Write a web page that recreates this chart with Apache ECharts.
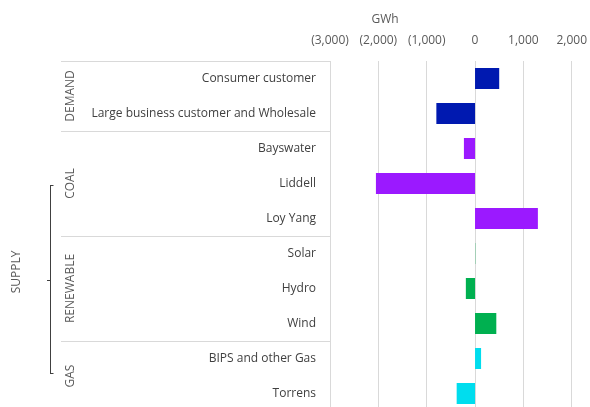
<!DOCTYPE html>
<html>
<head>
<meta charset="utf-8">
<script src="https://cdn.jsdelivr.net/npm/echarts@6/dist/echarts.min.js"></script>
<style>
html,body{margin:0;padding:0;background:#fff;overflow:hidden;width:590px;height:407px;}
#chart{width:590px;height:420px;}
</style>
</head>
<body>
<div id="chart"></div>
<script>
const categories = ['Consumer customer','Large business customer and Wholesale','Bayswater','Liddell','Loy Yang','Solar','Hydro','Wind','BIPS and other Gas','Torrens'];
const values = [500, -800, -230, -2050, 1300, 5, -190, 440, 125, -380];
const groupOf = ['DEMAND','DEMAND','COAL','COAL','COAL','RENEWABLE','RENEWABLE','RENEWABLE','GAS','GAS'];
const groupNames = ['DEMAND','COAL','RENEWABLE','GAS'];
const groupColors = {DEMAND:'#0019B0', COAL:'#9B19FF', RENEWABLE:'#00B050', GAS:'#00DDEE'};
const xTicks = {min:-3000, max:2000, interval:1000};

const FONT = '"Open Sans", sans-serif';
const TXT = '#595959';

function fmt(v){
  const s = Math.abs(v).toLocaleString('en-US');
  return v < 0 ? '(' + s + ')' : s;
}

const chart = echarts.init(document.getElementById('chart'), null, {renderer:'canvas'});
const boundaries = [];
for (let i = 0; i < categories.length; i++) {
  if (i === 0 || groupOf[i] !== groupOf[i-1]) boundaries.push(i);
}

chart.setOption({
  animation:false,
  textStyle:{fontFamily:FONT},
  grid:{left:330, right:17.7, top:61, height:350, containLabel:false},
  xAxis:{
    type:'value', position:'top',
    min:xTicks.min, max:xTicks.max, interval:xTicks.interval,
    axisLine:{show:false}, axisTick:{show:false},
    axisLabel:{color:TXT, fontSize:12, fontFamily:FONT, margin:14, formatter:fmt},
    splitLine:{show:true, lineStyle:{color:'#d9d9d9', width:1}}
  },
  yAxis:{
    type:'category', inverse:true, data:categories,
    axisLine:{show:false}, axisTick:{show:false},
    axisLabel:{color:'#404040', fontSize:12, fontFamily:FONT, margin:14}
  },
  series:[{
    type:'bar', barWidth:21,
    data: values.map((v,i)=>({value:v, itemStyle:{color:groupColors[groupOf[i]]}}))
  }]
});

const g = [];
g.push({type:'text', x:385, y:20, style:{text:'GWh', fill:TXT, font:'12px '+FONT, textAlign:'center', textVerticalAlign:'middle'}});
const c0 = chart.convertToPixel({yAxisIndex:0}, categories[0]);
const c1 = chart.convertToPixel({yAxisIndex:0}, categories[1]);
const band = c1 - c0;
boundaries.forEach(i=>{
  const y = Math.round(chart.convertToPixel({yAxisIndex:0}, categories[i]) - band/2) + 0.5;
  g.push({type:'line', shape:{x1:61, y1:y, x2:330, y2:y}, style:{stroke:'#d9d9d9', lineWidth:1}});
});
groupNames.forEach(name=>{
  const idx = [];
  groupOf.forEach((gname,i)=>{ if(gname===name) idx.push(i); });
  const y0 = chart.convertToPixel({yAxisIndex:0}, categories[idx[0]]);
  const y1 = chart.convertToPixel({yAxisIndex:0}, categories[idx[idx.length-1]]);
  g.push({type:'text', x:71, y:(y0+y1)/2, rotation:Math.PI/2,
    style:{text:name, fill:TXT, font:'12px '+FONT, textAlign:'center', textVerticalAlign:'middle'}});
});
const ls = {stroke:'#404040', lineWidth:1};
g.push({type:'line', shape:{x1:50.5, y1:185, x2:50.5, y2:374}, style:ls});
g.push({type:'line', shape:{x1:50.5, y1:185.5, x2:53.5, y2:185.5}, style:ls});
g.push({type:'line', shape:{x1:50.5, y1:373.5, x2:53.5, y2:373.5}, style:ls});
g.push({type:'line', shape:{x1:47, y1:280.5, x2:50.5, y2:280.5}, style:ls});
g.push({type:'text', x:17, y:272, rotation:Math.PI/2,
  style:{text:'SUPPLY', fill:TXT, font:'12px '+FONT, textAlign:'center', textVerticalAlign:'middle'}});
chart.setOption({graphic:g});
</script>
</body>
</html>
